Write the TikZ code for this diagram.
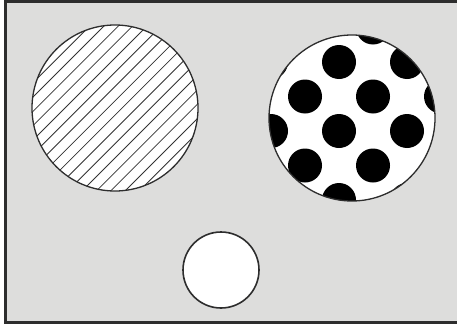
\documentclass[tikz,border=0pt]{standalone}
\usepackage{tikz}
\usetikzlibrary{positioning}

\definecolor{panelgray}{RGB}{221,221,220}
\definecolor{rimgray}{RGB}{45,45,45}

\begin{document}
\begin{tikzpicture}[
	x=1pt, y=-1pt,
	panel/.style={fill=panelgray, draw=rimgray, line width=3pt},
	disc/.style={circle, draw=rimgray, fill=white, line width=1.3pt, inner sep=0pt},
	hatched/.style={disc, minimum size=166pt, path picture={
		\foreach \k in {-12,...,12}
			\draw[black!80, line width=0.8pt] ([xshift={(\k+0.5)*14.3pt}]path picture bounding box.center) ++(-130pt,-130pt) -- ++(260pt,260pt);
	}},
	spotted/.style={disc, minimum size=166pt, path picture={
		\foreach \i in {-3,...,3}
			\foreach \j in {-2,...,2} {
				\fill[black] ([shift={(\i*68pt-13pt, 56pt-\j*69pt)}]path picture bounding box.center) circle (17pt);
				\fill[black] ([shift={(\i*68pt+21pt, 21.5pt-\j*69pt)}]path picture bounding box.center) circle (17pt);
			}
	}},
	plain/.style={disc, minimum size=76pt, line width=1.6pt}
]
	\useasboundingbox (0,0) rectangle (457,324);
	\draw[panel] (5.5,1.5) rectangle (462,322);

	\node[hatched] (stripes) at (115,108) {};
	\node[spotted] (dots) at (352,118) {};
	\node[plain] (blank) at (221,270) {};
\end{tikzpicture}
\end{document}
